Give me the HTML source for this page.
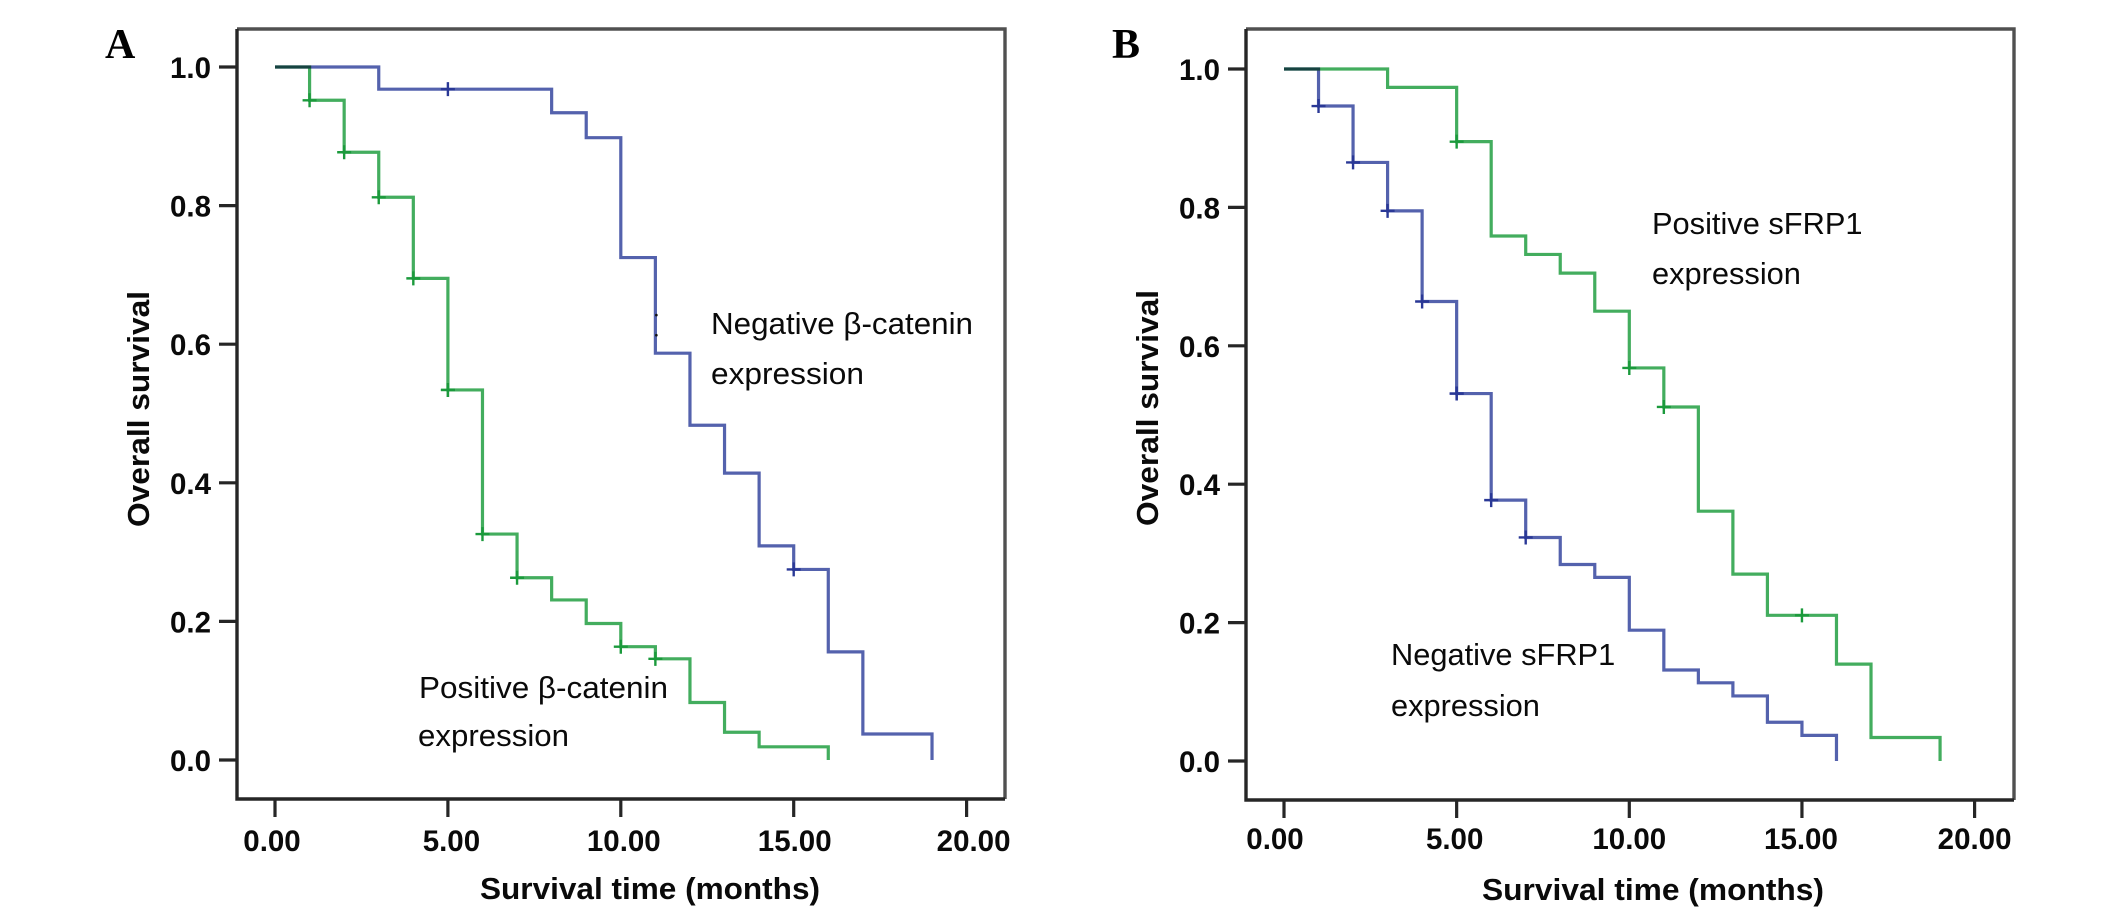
<!DOCTYPE html>
<html lang="en">
<head>
<meta charset="utf-8">
<title>Overall survival curves</title>
<style>
html,body{margin:0;padding:0;background:#fff;width:2126px;height:915px;overflow:hidden}
svg{display:block}
text{font-family:"Liberation Sans",Arial,sans-serif;fill:#0a0a0a}
.tick-label{font-size:29.5px;font-weight:bold}
.axis-title{font-size:31px;font-weight:bold}
.note{font-size:30.8px}
.panel-letter{font-family:"Liberation Serif",serif;font-size:42px;font-weight:bold;fill:#000}
</style>
</head>
<body>
<svg id="chart" xmlns="http://www.w3.org/2000/svg" width="2126" height="915" viewBox="0 0 2126 915">
  <text class="panel-letter" x="105" y="58">A</text>
  <text class="panel-letter" x="1112" y="58">B</text>
  <text class="note" x="711" y="334" textLength="262" lengthAdjust="spacingAndGlyphs">Negative β-catenin</text>
  <text class="note" x="711" y="384" textLength="153" lengthAdjust="spacingAndGlyphs">expression</text>
  <text class="note" x="419" y="698" textLength="249" lengthAdjust="spacingAndGlyphs">Positive β-catenin</text>
  <text class="note" x="418" y="746" textLength="151" lengthAdjust="spacingAndGlyphs">expression</text>
  <text class="note" x="1652" y="234">Positive sFRP1</text>
  <text class="note" x="1652" y="284">expression</text>
  <text class="note" x="1391" y="665">Negative sFRP1</text>
  <text class="note" x="1391" y="716">expression</text>
</svg>
<script>
// Shared tick labels
var xTickValues = [0, 5, 10, 15, 20];
var yTickValues = [0, 0.2, 0.4, 0.6, 0.8, 1.0];

// Panel A: beta-catenin
var aNegTimes = [3, 8, 9, 10, 11, 12, 13, 14, 15, 16, 17, 19];
var aNegSurvival = [0.968, 0.934, 0.898, 0.725, 0.587, 0.483, 0.414, 0.309, 0.275, 0.156, 0.0375, 0];
var aNegCensorTimes = [5, 15];
var aPosTimes = [1, 2, 3, 4, 5, 6, 7, 8, 9, 10, 11, 12, 13, 14, 16];
var aPosSurvival = [0.952, 0.877, 0.812, 0.695, 0.534, 0.326, 0.263, 0.231, 0.197, 0.1635, 0.146, 0.083, 0.04, 0.019, 0];
var aPosCensorTimes = [1, 2, 3, 4, 5, 5, 6, 7, 10, 11];
var aNegDotTimes = [11, 11];
var aNegDotValues = [0.642, 0.613];

// Panel B: sFRP1
var bNegTimes = [1, 2, 3, 4, 5, 6, 7, 8, 9, 10, 11, 12, 13, 14, 15, 16];
var bNegSurvival = [0.9465, 0.865, 0.795, 0.664, 0.531, 0.377, 0.323, 0.284, 0.2654, 0.189, 0.1315, 0.113, 0.094, 0.056, 0.037, 0];
var bNegCensorTimes = [1, 2, 3, 4, 5, 5, 6, 7];
var bPosTimes = [3, 5, 6, 7, 8, 9, 10, 11, 12, 13, 14, 16, 17, 19];
var bPosSurvival = [0.9735, 0.895, 0.7587, 0.732, 0.705, 0.65, 0.568, 0.5116, 0.361, 0.27, 0.2105, 0.14, 0.034, 0];
var bPosCensorTimes = [5, 10, 11, 15];

var SVG_NS = 'http://www.w3.org/2000/svg';
var svg = document.getElementById('chart');
var BLUE = '#5462ad', BLUE_DARK = '#2a3896', GREEN = '#43ad5e', GREEN_DARK = '#1b9a3c', AXIS = '#262626', FRAME = '#505050';

function make(tag, attrs, parent) {
  var el = document.createElementNS(SVG_NS, tag);
  for (var k in attrs) el.setAttribute(k, attrs[k]);
  (parent || svg).appendChild(el);
  return el;
}

function survivalAt(times, values, t) {
  var s = 1;
  for (var i = 0; i < times.length; i++) { if (times[i] <= t) s = values[i]; }
  return s;
}

function drawSeries(p, g, times, values, censors, color, markColor, blend, name) {
  var d = 'M' + p.x(0) + ' ' + p.y(1);
  for (var i = 0; i < times.length; i++) {
    d += 'H' + p.x(times[i]) + 'V' + p.y(values[i]);
  }
  var line = make('path', {d: d, fill: 'none', stroke: color, 'stroke-width': 3.2, 'stroke-linejoin': 'miter', style: 'mix-blend-mode:' + blend}, g);
  
  
  censors.forEach(function (t) {
    var cx = p.x(t), cy = p.y(survivalAt(times, values, t));
    var mark = make('path', {d: 'M' + (cx - 7) + ' ' + cy + 'H' + (cx + 7) + 'M' + cx + ' ' + (cy - 7) + 'V' + (cy + 7), fill: 'none', stroke: markColor, 'stroke-width': 2.4}, g);
    
    
  });
}

function drawPanel(p) {
  var g = make('g', {});
  
  

  var topRight = make('path', {d: 'M' + p.left + ' ' + p.top + 'H' + p.right + 'V' + p.bottom, fill: 'none', stroke: FRAME, 'stroke-width': 3.4}, g);
  
  
  var leftBottom = make('path', {d: 'M' + p.left + ' ' + p.top + 'V' + p.bottom + 'H' + p.right, fill: 'none', stroke: AXIS, 'stroke-width': 3.4}, g);
  
  

  yTickValues.forEach(function (v) {
    var yy = p.y(v);
    var tick = make('line', {x1: p.left - 18, x2: p.left, y1: yy, y2: yy, stroke: AXIS, 'stroke-width': 3.2}, g);
    
    
    var label = make('text', {x: p.left - 26, y: yy + 11, 'text-anchor': 'end', 'class': 'tick-label'}, g);
    label.textContent = v.toFixed(1);
    
    
  });

  xTickValues.forEach(function (v, i) {
    var xx = p.x(v);
    var tick = make('line', {x1: xx, x2: xx, y1: p.bottom, y2: p.bottom + 18, stroke: AXIS, 'stroke-width': 3.2}, g);
    
    
    var label = make('text', {x: xx + p.labelNudge[i], y: p.bottom + p.xLabelDrop, 'text-anchor': 'middle', 'class': 'tick-label'}, g);
    label.textContent = v.toFixed(2);
    
    
  });

  var xTitle = make('text', {x: p.xTitleX, y: p.xTitleY, 'class': 'axis-title', textLength: p.xTitleLen, lengthAdjust: 'spacingAndGlyphs'}, g);
  xTitle.textContent = 'Survival time (months)';
  
  

  var yTitle = make('text', {transform: 'translate(' + p.yTitleX + ' ' + p.yTitleY + ') rotate(-90)', 'class': 'axis-title', textLength: 236, lengthAdjust: 'spacingAndGlyphs'}, g);
  yTitle.textContent = 'Overall survival';
  
  

  return g;
}

function scales(p, x0, xUnit, y0, yUnit) {
  p.x = function (t) { return x0 + t * xUnit; };
  p.y = function (v) { return y0 - v * yUnit; };
  return p;
}

var panelA = scales({name: 'panel-a', left: 237, right: 1005, top: 29, bottom: 799, labelNudge: [-3, 3.5, 3, 1, 7], xLabelDrop: 52, xTitleX: 480, xTitleY: 899, xTitleLen: 340, yTitleX: 149, yTitleY: 527}, 275, 34.58, 760, 693);
var panelB = scales({name: 'panel-b', left: 1246, right: 2014, top: 29, bottom: 800, labelNudge: [-9, -2, 0, -1, 0], xLabelDrop: 49, xTitleX: 1482, xTitleY: 900, xTitleLen: 342, yTitleX: 1158, yTitleY: 526}, 1284, 34.53, 761, 692);

var gA = drawPanel(panelA);
drawSeries(panelA, gA, aNegTimes, aNegSurvival, aNegCensorTimes, BLUE, BLUE_DARK, 'normal', 'negative-beta-catenin');
drawSeries(panelA, gA, aPosTimes, aPosSurvival, aPosCensorTimes, GREEN, GREEN_DARK, 'multiply', 'positive-beta-catenin');
aNegDotTimes.forEach(function (t, i) {
  var dot = make('circle', {cx: panelA.x(t) + 1, cy: panelA.y(aNegDotValues[i]), r: 1.3, fill: '#111'}, gA);
  
  
});

var gB = drawPanel(panelB);
drawSeries(panelB, gB, bNegTimes, bNegSurvival, bNegCensorTimes, BLUE, BLUE_DARK, 'normal', 'negative-sfrp1');
drawSeries(panelB, gB, bPosTimes, bPosSurvival, bPosCensorTimes, GREEN, GREEN_DARK, 'multiply', 'positive-sfrp1');
</script>
</body>
</html>
